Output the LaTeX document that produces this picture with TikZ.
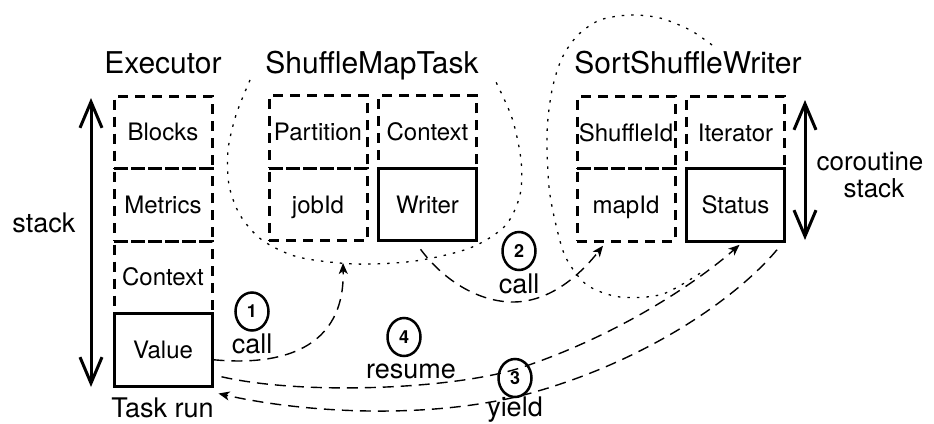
\documentclass[tikz,border=0pt]{standalone}
\usepackage{fontspec}
\setmainfont{TeX Gyre Heros}
\usetikzlibrary{calc,arrows.meta,shapes.geometric}

\begin{document}
\begin{tikzpicture}[x=1pt,y=-1pt,
	slot/.style={draw,line width=3pt,dash pattern=on 10pt off 7pt,minimum width=98pt,minimum height=72.5pt,inner sep=0pt,font=\fontsize{24}{28}\selectfont,text height=17pt,text depth=0pt},
	held/.style={slot,solid},
	title/.style={anchor=base,font=\fontsize{30}{34}\selectfont},
	note/.style={anchor=base,font=\fontsize{27}{31}\selectfont},
	tag/.style={draw,ellipse,line width=2.5pt,minimum width=33pt,minimum height=38pt,inner sep=0pt,font=\fontsize{18}{20}\selectfont\bfseries},
	flow/.style={line width=1.4pt,dash pattern=on 11pt off 7pt,-{Stealth[length=11pt,width=9pt,inset=3pt]}},
	ring/.style={line width=1.3pt,dash pattern=on 2.5pt off 7pt},
	span/.style={line width=3pt,{Straight Barb[length=26pt,width=22pt]}-{Straight Barb[length=26pt,width=22pt]}}]
	\useasboundingbox (0,0) rectangle (934,423);
	
	% Executor stack
	\node[title] (ExecTitle) at (163,73) {Executor};
	\node[slot] (Blocks) at (163,132.25) {Blocks};
	\node[slot] (Metrics) at (163,204.75) {Metrics};
	\node[slot] (ExecCtx) at (163,277.25) {Context};
	\node[held] (Value) at (163,349.75) {Value};
	\node[note] (RunLbl) at (162.5,417) {Task run};
	
	\coordinate (StackTop) at (91,98);
	\coordinate (StackBot) at (91,387);
	\draw[span] (StackTop) -- (StackBot);
	\node[note] (StackLbl) at (44,232) {stack};
	
	% ShuffleMapTask frame
	\node[title] (TaskTitle) at (372,73) {ShuffleMapTask};
	\node[slot] (Partition) at (318,132) {Partition};
	\node[slot] (TaskCtx) at (427.5,132) {Context};
	\node[slot] (jobId) at (318,204.5) {jobId};
	\node[held] (Writer) at (427.5,204.5) {Writer};
	\draw[ring] plot[smooth] coordinates {(250,80) (236,115) (228,150) (229,185) (240,215) (262,240) (298,257) (355,264) (415,261) (470,248) (505,226) (520,195) (521,160) (512,118) (495,80)};
	\coordinate (TaskRim) at (343,263);
	
	% SortShuffleWriter frame
	\node[title] (WriterTitle) at (688,73) {SortShuffleWriter};
	\node[slot] (ShuffleId) at (626,132.5) {ShuffleId};
	\node[slot] (Iterator) at (735.5,132.5) {Iterator};
	\node[slot] (mapId) at (626,205) {mapId};
	\node[held] (Status) at (735.5,205) {Status};
	\draw[ring] plot[smooth] coordinates {(712,45) (690,30) (660,18) (630,15) (600,20) (578,35) (562,58) (552,90) (547,133) (549,187) (556,225) (566,258) (587,285) (620,297) (663,294) (705,270)};
	
	\coordinate (CoroTop) at (805,100);
	\coordinate (CoroBot) at (805,240);
	\draw[span] (CoroTop) -- (CoroBot);
	\node[note,font=\fontsize{26}{30}\selectfont] (CoroLbl) at (870,170) {coroutine};
	\node[note,font=\fontsize{26}{30}\selectfont] (CoroStack) at (874,197) {stack};
	
	% steps
	\node[tag] (T1) at (252,311.5) {1};
	\node[note] (C1) at (252,353) {call};
	\node[tag] (T2) at (519,251) {2};
	\node[note] (C2) at (519,293) {call};
	\node[tag] (T4) at (404,337) {4};
	\node[note] (C4) at (411,378) {resume};
	\node[tag] (T3) at (515,378) {3};
	\node[note] (C3) at (515,416) {yield};
	
	\draw[flow] ($(Value.east)+(0,10)$) .. controls (280,366) and (345,350) .. (TaskRim);
	\draw[flow] ($(Writer.south)+(-7,7)$) .. controls (445,282) and (480,302) .. (513,302) .. controls (550,302) and (580,275) .. ($(mapId.south)+(-23,3)$);
	\draw[flow] ($(Status.south east)+(-9,7)$) .. controls (735,300) and (640,365) .. (520,396) .. controls (420,420) and (300,412) .. ($(Value.south east)+(5,6)$);
	\draw[flow] ($(Value.east)+(8,27)$) .. controls (300,395) and (450,390) .. (520,368) .. controls (620,335) and (700,280) .. ($(Status.south)+(4,2)$);
\end{tikzpicture}
\end{document}
